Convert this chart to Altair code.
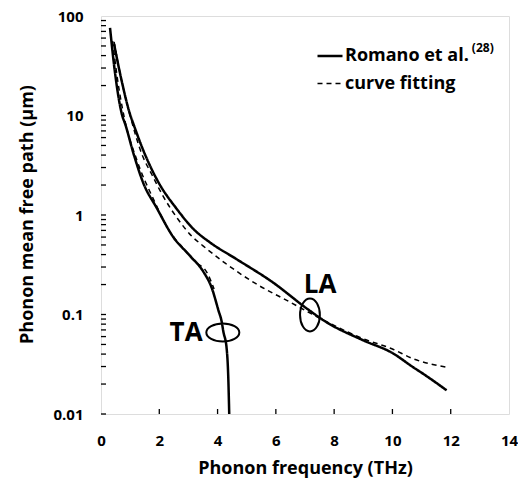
import altair as alt
import pandas as pd

# ---- data (frequency in THz, mean free path in um) ----
ta_freq = [0.31, 0.48, 0.72, 0.83, 1.12, 1.45, 1.91, 2.48, 3.05, 3.51, 3.80, 4.03, 4.14, 4.20, 4.31, 4.37, 4.40]
ta_mfp = [76, 27, 10.2, 8.2, 4.1, 2.1, 1.18, 0.60, 0.39, 0.27, 0.185, 0.11, 0.085, 0.067, 0.046, 0.022, 0.01]

la_freq = [0.45, 0.66, 1.0, 1.12, 1.46, 1.93, 2.62, 3.2, 3.74, 4.65, 5.9, 7.06, 7.7, 9.0, 10.0, 10.72, 11.06, 11.86]
la_mfp = [52, 26, 10.2, 8.1, 4.4, 2.24, 1.13, 0.71, 0.53, 0.36, 0.21, 0.115, 0.085, 0.055, 0.041, 0.0294, 0.0253, 0.0173]

ta_fit_freq = [0.40, 0.55, 0.80, 1.24, 1.81, 2.39, 2.85, 3.19, 3.66, 3.88]
ta_fit_mfp = [56, 25, 9.5, 3.5, 1.42, 0.66, 0.454, 0.348, 0.256, 0.18]

la_fit_freq = [0.45, 0.66, 1.0, 1.40, 1.73, 2.14, 2.65, 3.11, 3.5, 4.25, 5.3, 6.45, 7.6, 9.0, 10.0, 10.7, 11.86]
la_fit_mfp = [55, 26, 10, 4.1, 2.6, 1.53, 0.90, 0.615, 0.49, 0.33, 0.205, 0.135, 0.089, 0.057, 0.045, 0.036, 0.0295]

SRC_DATA = "Romano et al."
SRC_FIT = "curve fitting"

x_tick_values = [0, 2, 4, 6, 8, 10, 12, 14]
x_inner_ticks = [2, 4, 6, 8, 10, 12]
y_tick_values = [0.01, 0.1, 1, 10, 100]
y_inner_ticks = [
    0.01, 0.02, 0.03, 0.04, 0.05, 0.06, 0.07, 0.08, 0.09,
    0.1, 0.2, 0.3, 0.4, 0.5, 0.6, 0.7, 0.8, 0.9,
    1, 2, 3, 4, 5, 6, 7, 8, 9,
    10, 20, 30, 40, 50, 60, 70, 80, 90,
]

# annotations (data coordinates)
label_text = ["TA", "LA"]
label_freq = [2.92, 7.52]
label_mfp = [0.065, 0.198]

ta_ring_freq = [4.18]
ta_ring_mfp = [0.066]
la_ring_freq = [7.17]
la_ring_mfp = [0.099]

sup_text = ["(28)"]
sup_freq = [13.1]
sup_mfp = [48]

# ---- build tables ----
rows = []
for branch, src, fs, vs in [
    ("TA", SRC_DATA, ta_freq, ta_mfp),
    ("LA", SRC_DATA, la_freq, la_mfp),
    ("TA", SRC_FIT, ta_fit_freq, ta_fit_mfp),
    ("LA", SRC_FIT, la_fit_freq, la_fit_mfp),
]:
    for f, v in zip(fs, vs):
        rows.append({"freq": f, "mfp": v, "source": src, "series": branch + " " + src})
df = pd.DataFrame(rows)

FONT = "Open Sans"
W, H = 408, 398
X_TITLE = "Phonon frequency (THz)"
Y_TITLE = "Phonon mean free path (μm)"

x_scale = alt.Scale(domain=[0, 14], nice=False, zero=False)
y_scale = alt.Scale(type="log", domain=[0.01, 100], nice=False)

x_axis = alt.Axis(values=x_tick_values, format="d", ticks=False, tickSize=0, domain=False,
                  grid=False, labelPadding=19, labelFontSize=15, labelFont=FONT,
                  labelFontWeight="bold", labelColor="black", titleFontSize=18,
                  titleFont=FONT, titleFontWeight="bold", titleColor="black",
                  titleY=54, titleBaseline="middle", labelFlush=False)
y_axis = alt.Axis(values=y_tick_values, format="~g", ticks=False, tickSize=0, domain=False,
                  grid=False, labelPadding=18, labelFontSize=15, labelFont=FONT,
                  labelFontWeight="bold", labelColor="black", titleFontSize=18,
                  titleFont=FONT, titleFontWeight="bold", titleColor="black",
                  titleX=-74, titleY=198, titleAlign="center", titleBaseline="middle",
                  labelFlush=False)


def xe(field):
    return alt.X(field, type="quantitative", scale=x_scale, axis=x_axis, title=X_TITLE)


def ye(field):
    return alt.Y(field, type="quantitative", scale=y_scale, axis=y_axis, title=Y_TITLE)


lines = alt.Chart(df).mark_line(clip=True, color="black", interpolate="monotone").encode(
    x=xe("freq"),
    y=ye("mfp"),
    strokeDash=alt.StrokeDash(
        "source:N",
        scale=alt.Scale(domain=[SRC_DATA, SRC_FIT], range=[[1, 0], [5, 4]]),
        legend=alt.Legend(
            title=None, orient="none", legendX=215, legendY=26, padding=0,
            symbolType="stroke", symbolSize=625, symbolStrokeWidth=2.2,
            symbolStrokeColor="black", labelFontSize=18, labelFont=FONT,
            labelFontWeight="bold", labelColor="black", labelOffset=1, rowPadding=5,
        ),
    ),
    strokeWidth=alt.StrokeWidth(
        "source:N", scale=alt.Scale(domain=[SRC_DATA, SRC_FIT], range=[2.5, 1.5]), legend=None
    ),
    detail="series:N",
    order="freq:Q",
)

yticks = alt.Chart(pd.DataFrame({"v": y_inner_ticks})).mark_rule(color="black", strokeWidth=1.3).encode(
    y=ye("v"), x=alt.value(0), x2=alt.value(5)
)
xticks = alt.Chart(pd.DataFrame({"f": x_inner_ticks})).mark_rule(color="black", strokeWidth=1.3).encode(
    x=xe("f"), y=alt.value(H), y2=alt.value(H - 5)
)

ta_ring = alt.Chart(pd.DataFrame({"freq": ta_ring_freq, "mfp": ta_ring_mfp})).mark_point(
    shape="M -1 0 A 1 0.55 0 1 0 1 0 A 1 0.55 0 1 0 -1 0",
    size=1089, filled=False, color="black", strokeWidth=2, opacity=1,
).encode(x=xe("freq"), y=ye("mfp"))

la_ring = alt.Chart(pd.DataFrame({"freq": la_ring_freq, "mfp": la_ring_mfp})).mark_point(
    shape="M 0 -1 A 0.6 1 0 1 0 0 1 A 0.6 1 0 1 0 0 -1",
    size=1089, filled=False, color="black", strokeWidth=2, opacity=1,
).encode(x=xe("freq"), y=ye("mfp"))

labels = alt.Chart(pd.DataFrame({"freq": label_freq, "mfp": label_mfp, "t": label_text})).mark_text(
    font=FONT, fontSize=26, fontWeight="bold", color="black", align="center", baseline="middle"
).encode(x=xe("freq"), y=ye("mfp"), text="t:N")

sup = alt.Chart(pd.DataFrame({"freq": sup_freq, "mfp": sup_mfp, "t": sup_text})).mark_text(
    font=FONT, fontSize=12, fontWeight="bold", color="black", align="center", baseline="middle"
).encode(x=xe("freq"), y=ye("mfp"), text="t:N")

chart = alt.layer(lines, yticks, xticks, ta_ring, la_ring, labels, sup).properties(
    width=W,
    height=H,
    padding={"left": 93, "top": 8, "right": 9, "bottom": 65},
    autosize=alt.AutoSizeParams(type="none"),
).configure_view(
    stroke="black", strokeWidth=2
).configure(background="white")

chart.save("out.html", embed_options={"renderer": "svg", "actions": False})
